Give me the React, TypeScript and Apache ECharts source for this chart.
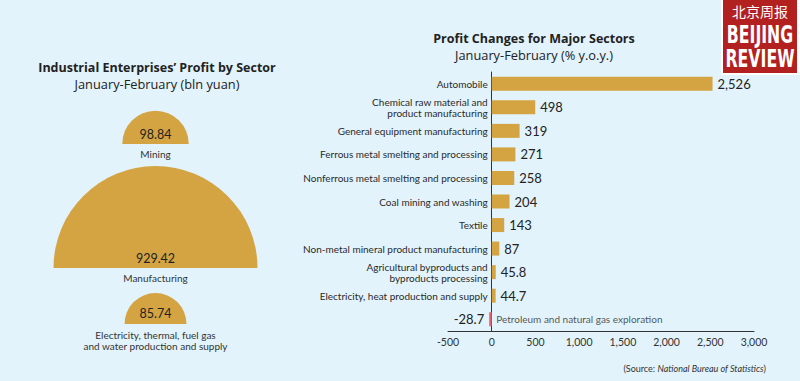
import React, { useEffect, useRef } from 'react';
import * as echarts from 'echarts';

// Left: industrial enterprises' profit by sector (bln yuan)
const sectorNames = [
  'Mining',
  'Manufacturing',
  'Electricity, thermal, fuel gas\nand water production and supply',
];
const sectorProfits = [98.84, 929.42, 85.74];

// Right: profit changes for major sectors (% y.o.y.)
const categories = [
  'Automobile',
  'Chemical raw material and\nproduct manufacturing',
  'General equipment manufacturing',
  'Ferrous metal smelting and processing',
  'Nonferrous metal smelting and processing',
  'Coal mining and washing',
  'Textile',
  'Non-metal mineral product manufacturing',
  'Agricultural byproducts and\nbyproducts processing',
  'Electricity, heat production and supply',
  'Petroleum and natural gas exploration',
];
const changes = [2526, 498, 319, 271, 258, 204, 143, 87, 45.8, 44.7, -28.7];
const axisMin = -500;
const axisMax = 3000;
const axisInterval = 500;

const FONT = 'Lato, "Open Sans", sans-serif';
const TFONT = '"Open Sans", "Noto Sans", sans-serif';
const GOLD = '#d4a443';
const RED = '#e5606a';

const fmt = (v: number) =>
  Number.isInteger(v) ? v.toLocaleString('en-US') : String(v);

export default function App() {
  const ref = useRef<HTMLDivElement>(null);
  useEffect(() => {
    document.body.style.margin = '0';
    if (!ref.current) return;
    const chart = echarts.init(ref.current, undefined, { renderer: 'svg' });

    const maxProfit = Math.max(...sectorProfits);
    const k = 102 / Math.sqrt(maxProfit);
    const bases = [144, 268, 324];

    const gridLeft = 448;
    const gridRight = 46;
    const gridWidth = 800 - gridLeft - gridRight;
    const zeroOffset = ((0 - axisMin) / (axisMax - axisMin)) * gridWidth;

    const pies = sectorProfits.map((v, i) => {
      const lines = sectorNames[i].split('\n');
      const multi = lines.length > 1;
      return {
        type: 'pie',
        center: [155.5, bases[i]],
        radius: k * Math.sqrt(v),
        startAngle: 180,
        endAngle: 0,
        clockwise: true,
        silent: true,
        avoidLabelOverlap: false,
        itemStyle: { color: GOLD },
        labelLine: { show: false },
        label: {
          show: true,
          position: 'center',
          formatter: () =>
            `{v|${v}}\n` + lines.map((l) => `{n|${l}}`).join('\n'),
          rich: {
            v: {
              fontFamily: FONT,
              fontSize: 12.5,
              color: '#222',
              lineHeight: multi ? 33 : 20,
            },
            n: {
              fontFamily: FONT,
              fontSize: 10,
              color: '#333',
              lineHeight: multi ? 11 : 20,
            },
          },
        },
        data: [{ value: v, name: sectorNames[i] }],
      };
    });

    const titleText = (x: number, y: number, text: string, bold: boolean) => ({
      type: 'text',
      x,
      y,
      style: {
        text,
        fontFamily: TFONT,
        fontSize: bold ? 12.5 : 12.8,
        fontWeight: bold ? 'bold' : 'normal',
        lineHeight: 14,
        fill: '#222',
        align: 'center',
        verticalAlign: 'middle',
      },
    });

    chart.setOption({
      animation: false,
      backgroundColor: '#e2f3fb',
      textStyle: { fontFamily: FONT },
      grid: { left: gridLeft, right: gridRight, top: 72, bottom: 50, containLabel: false },
      xAxis: {
        type: 'value',
        min: axisMin,
        max: axisMax,
        interval: axisInterval,
        splitLine: { show: false },
        axisTick: { show: false },
        axisLine: { show: true, lineStyle: { color: '#333', width: 1 } },
        axisLabel: {
          fontFamily: FONT,
          fontSize: 10.5,
          color: '#333',
          margin: 5,
          formatter: (v: number) => v.toLocaleString('en-US'),
        },
      },
      yAxis: {
        type: 'category',
        inverse: true,
        data: categories,
        axisTick: { show: false },
        axisLine: { show: true, onZero: true, lineStyle: { color: '#333', width: 1 } },
        axisLabel: {
          fontFamily: FONT,
          fontSize: 10,
          lineHeight: 11,
          color: '#2a2a2a',
          margin: 4 - zeroOffset,
          formatter: (val: string, idx: number) => (changes[idx] < 0 ? '' : val),
        },
      },
      series: [
        {
          type: 'bar',
          barWidth: 14,
          silent: true,
          data: changes.map((v) => ({
            value: v,
            itemStyle: { color: v < 0 ? RED : GOLD },
            label: { position: v < 0 ? 'left' : 'right' },
          })),
          label: {
            show: true,
            distance: 5,
            fontFamily: FONT,
            fontSize: 13,
            color: '#222',
            formatter: (p: any) => fmt(p.value),
          },
        },
        {
          type: 'scatter',
          silent: true,
          symbolSize: 1,
          itemStyle: { color: 'rgba(0,0,0,0)' },
          data: categories.flatMap((c, i) => (changes[i] < 0 ? [[0, c]] : [])),
          label: {
            show: true,
            position: 'right',
            distance: 4,
            fontFamily: FONT,
            fontSize: 10,
            color: '#2a2a2a',
            formatter: (p: any) => p.value[1],
          },
        },
        ...pies,
      ],
      graphic: [
        titleText(157, 67.5, 'Industrial Enterprises’ Profit by Sector', true),
        titleText(157, 83.5, 'January-February (bln yuan)', false),
        titleText(534, 38.5, 'Profit Changes for Major Sectors', true),
        titleText(534, 54.5, 'January-February (% y.o.y.)', false),
        {
          type: 'text',
          x: 766,
          y: 368,
          style: {
            text: '{a|(Source: }{b|National Bureau of Statistics}{a|)}',
            rich: {
              a: { fontFamily: FONT, fontSize: 9, fill: '#333' },
              b: { fontFamily: FONT, fontSize: 9, fontStyle: 'italic', fill: '#333' },
            },
            align: 'right',
            verticalAlign: 'middle',
          },
        },
        // logo
        { type: 'rect', shape: { x: 721, y: 0, width: 79, height: 75 }, style: { fill: '#ffffff' } },
        { type: 'rect', shape: { x: 723, y: 0, width: 74, height: 73 }, style: { fill: '#b2211f' } },
        {
          type: 'text',
          x: 760,
          y: 11,
          style: {
            text: '北京周报',
            fontFamily: '"Noto Sans CJK SC", sans-serif',
            fontSize: 14,
            fill: '#fff',
            align: 'center',
            verticalAlign: 'middle',
          },
        },
        {
          type: 'text',
          x: 760,
          y: 34,
          scaleX: 0.7,
          style: {
            text: 'BEIJING',
            fontFamily: '"Liberation Sans Narrow", "DejaVu Sans Condensed", "Liberation Sans", sans-serif',
            fontSize: 25,
            fontWeight: 'bold',
            fill: '#fff',
            align: 'center',
            verticalAlign: 'middle',
          },
        },
        {
          type: 'text',
          x: 760,
          y: 58,
          scaleX: 0.7,
          style: {
            text: 'REVIEW',
            fontFamily: '"Liberation Sans Narrow", "DejaVu Sans Condensed", "Liberation Sans", sans-serif',
            fontSize: 25,
            fontWeight: 'bold',
            fill: '#fff',
            align: 'center',
            verticalAlign: 'middle',
          },
        },
      ],
    });
    return () => chart.dispose();
  }, []);
  return (
    <div
      ref={ref}
      style={{ position: 'absolute', left: 0, top: 0, width: 800, height: 381 }}
    />
  );
}
